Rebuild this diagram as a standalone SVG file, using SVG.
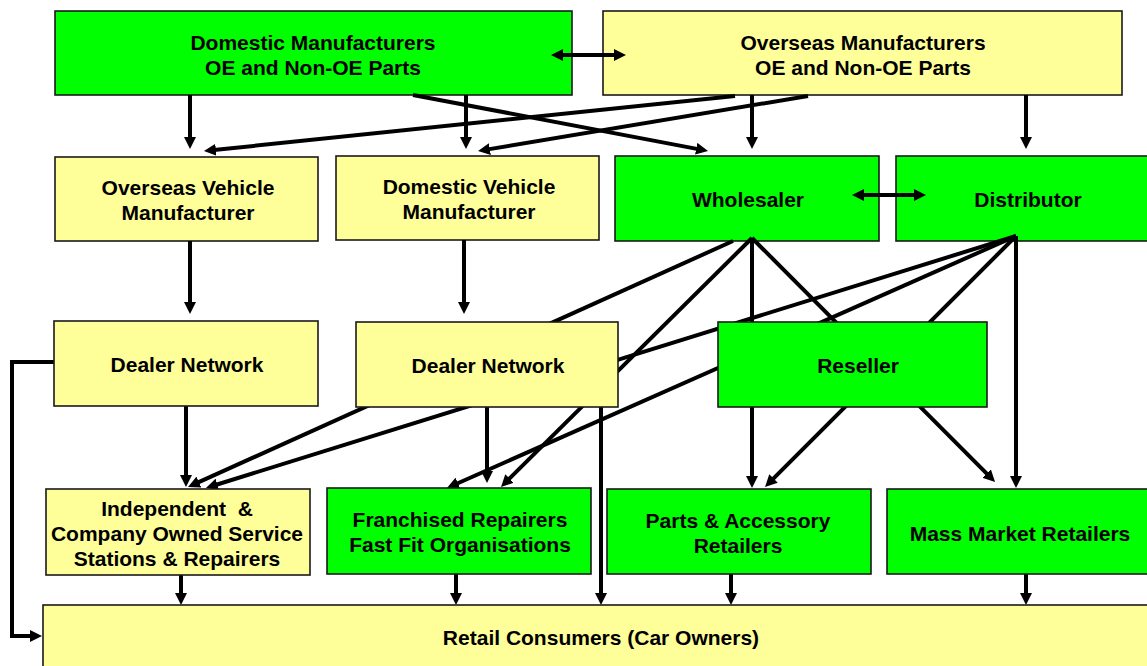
<svg xmlns="http://www.w3.org/2000/svg" width="1147" height="666" viewBox="0 0 1147 666">
  <defs>
    <style>
      .box { stroke: #1a1a1a; stroke-width: 1.6; }
      .g { fill: #00ff00; }
      .y { fill: #ffff99; }
      .t { font-family: "Liberation Sans", Arial, Helvetica, sans-serif; font-weight: bold; font-size: 21px; text-anchor: middle; fill: #000; }
      .c { fill: none; stroke: #000; stroke-width: 4; stroke-linejoin: miter; }
      .a { marker-end: url(#tip); }
      .aa { marker-start: url(#tip); marker-end: url(#tip); }
    </style>
    <!-- arrowhead: the line end sits 2px inside the base, the point is 10px beyond the line end -->
    <marker id="tip" viewBox="0 0 12 12" refX="2" refY="6" markerWidth="12" markerHeight="12" markerUnits="userSpaceOnUse" orient="auto-start-reverse">
      <path d="M0,0 L12,6 L0,12 z" fill="#000"/>
    </marker>
  </defs>

  <rect width="1147" height="666" fill="#ffffff"/>

  <!-- top row: parts makers -->
  <g id="domestic-manufacturers">
    <rect class="box g" x="55" y="11" width="517" height="84"/>
    <text class="t" x="313" y="50">Domestic Manufacturers</text>
    <text class="t" x="313" y="75">OE and Non-OE Parts</text>
  </g>
  <g id="overseas-manufacturers">
    <rect class="box y" x="603" y="11" width="519" height="84"/>
    <text class="t" x="863" y="50">Overseas Manufacturers</text>
    <text class="t" x="863" y="75">OE and Non-OE Parts</text>
  </g>

  <!-- second row -->
  <g id="overseas-vehicle-manufacturer">
    <rect class="box y" x="55" y="157" width="263" height="84"/>
    <text class="t" x="188" y="195">Overseas Vehicle</text>
    <text class="t" x="188" y="220">Manufacturer</text>
  </g>
  <g id="domestic-vehicle-manufacturer">
    <rect class="box y" x="336" y="156" width="263" height="84"/>
    <text class="t" x="469" y="194">Domestic Vehicle</text>
    <text class="t" x="469" y="219">Manufacturer</text>
  </g>
  <g id="wholesaler">
    <rect class="box g" x="615" y="156" width="264" height="85"/>
    <text class="t" x="748" y="207">Wholesaler</text>
  </g>
  <g id="distributor">
    <rect class="box g" x="896" y="156" width="264" height="85"/>
    <text class="t" x="1028" y="207">Distributor</text>
  </g>

  <!-- supply links -->
  <g id="connectors">
    <line class="c aa" x1="561" y1="55" x2="616" y2="55"/>
    <line class="c aa" x1="862" y1="195" x2="916" y2="195"/>

    <line class="c a" x1="190" y1="95" x2="190" y2="139"/>
    <line class="c a" x1="466" y1="95" x2="466" y2="139"/>
    <line class="c a" x1="752" y1="95" x2="752" y2="139"/>
    <line class="c a" x1="1026" y1="95" x2="1026" y2="139"/>
    <line class="c a" x1="413" y1="95" x2="698.2" y2="149.1"/>
    <line class="c a" x1="735" y1="96" x2="213.9" y2="150"/>
    <line class="c a" x1="808" y1="96" x2="487.9" y2="149.4"/>

    <line class="c a" x1="190" y1="241" x2="190" y2="304"/>
    <line class="c a" x1="464" y1="240" x2="464" y2="304"/>

    <line class="c a" x1="733" y1="241" x2="197.1" y2="482.9"/>
    <line class="c a" x1="752" y1="238" x2="508.1" y2="479.9"/>
    <line class="c a" x1="752" y1="238" x2="752" y2="478"/>
    <line class="c a" x1="752" y1="238" x2="988" y2="474.9"/>

    <line class="c a" x1="1016" y1="236" x2="215.5" y2="485"/>
    <line class="c a" x1="1016" y1="236" x2="456.1" y2="484"/>
    <line class="c a" x1="1016" y1="236" x2="772.1" y2="479.9"/>
    <line class="c a" x1="1016" y1="236" x2="1016" y2="478"/>

    <line class="c a" x1="186" y1="406" x2="186" y2="477"/>
    <line class="c a" x1="487" y1="407" x2="487" y2="473"/>
    <line class="c a" x1="601" y1="407" x2="601" y2="595"/>
    <path class="c a" d="M54,362 H12 V636 H32"/>

    <line class="c a" x1="181" y1="575" x2="181" y2="595"/>
    <line class="c a" x1="456" y1="574" x2="456" y2="595"/>
    <line class="c a" x1="731" y1="574" x2="731" y2="595"/>
    <line class="c a" x1="1026" y1="574" x2="1026" y2="595"/>
  </g>

  <!-- third row -->
  <g id="dealer-network-overseas">
    <rect class="box y" x="54" y="321" width="264" height="85"/>
    <text class="t" x="187" y="372">Dealer Network</text>
  </g>
  <g id="dealer-network-domestic">
    <rect class="box y" x="356" y="322" width="262" height="85"/>
    <text class="t" x="488" y="373">Dealer Network</text>
  </g>
  <g id="reseller">
    <rect class="box g" x="718" y="322" width="269" height="85"/>
    <text class="t" x="858" y="373">Reseller</text>
  </g>

  <!-- fourth row: outlets -->
  <g id="independent-repairers">
    <rect class="box y" x="46" y="489" width="264" height="86"/>
    <text class="t" x="177" y="516">Independent&#160; &amp;</text>
    <text class="t" x="177" y="541">Company Owned Service</text>
    <text class="t" x="177" y="566">Stations &amp; Repairers</text>
  </g>
  <g id="franchised-repairers">
    <rect class="box g" x="327" y="488" width="264" height="86"/>
    <text class="t" x="460" y="527">Franchised Repairers</text>
    <text class="t" x="460" y="552">Fast Fit Organisations</text>
  </g>
  <g id="parts-accessory-retailers">
    <rect class="box g" x="607" y="489" width="264" height="85"/>
    <text class="t" x="738" y="528">Parts &amp; Accessory</text>
    <text class="t" x="738" y="553">Retailers</text>
  </g>
  <g id="mass-market-retailers">
    <rect class="box g" x="887" y="489" width="266" height="85"/>
    <text class="t" x="1020" y="541">Mass Market Retailers</text>
  </g>

  <!-- end customers -->
  <g id="retail-consumers">
    <rect class="box y" x="43" y="605" width="1115" height="70"/>
    <text class="t" x="601" y="645">Retail Consumers (Car Owners)</text>
  </g>
</svg>
